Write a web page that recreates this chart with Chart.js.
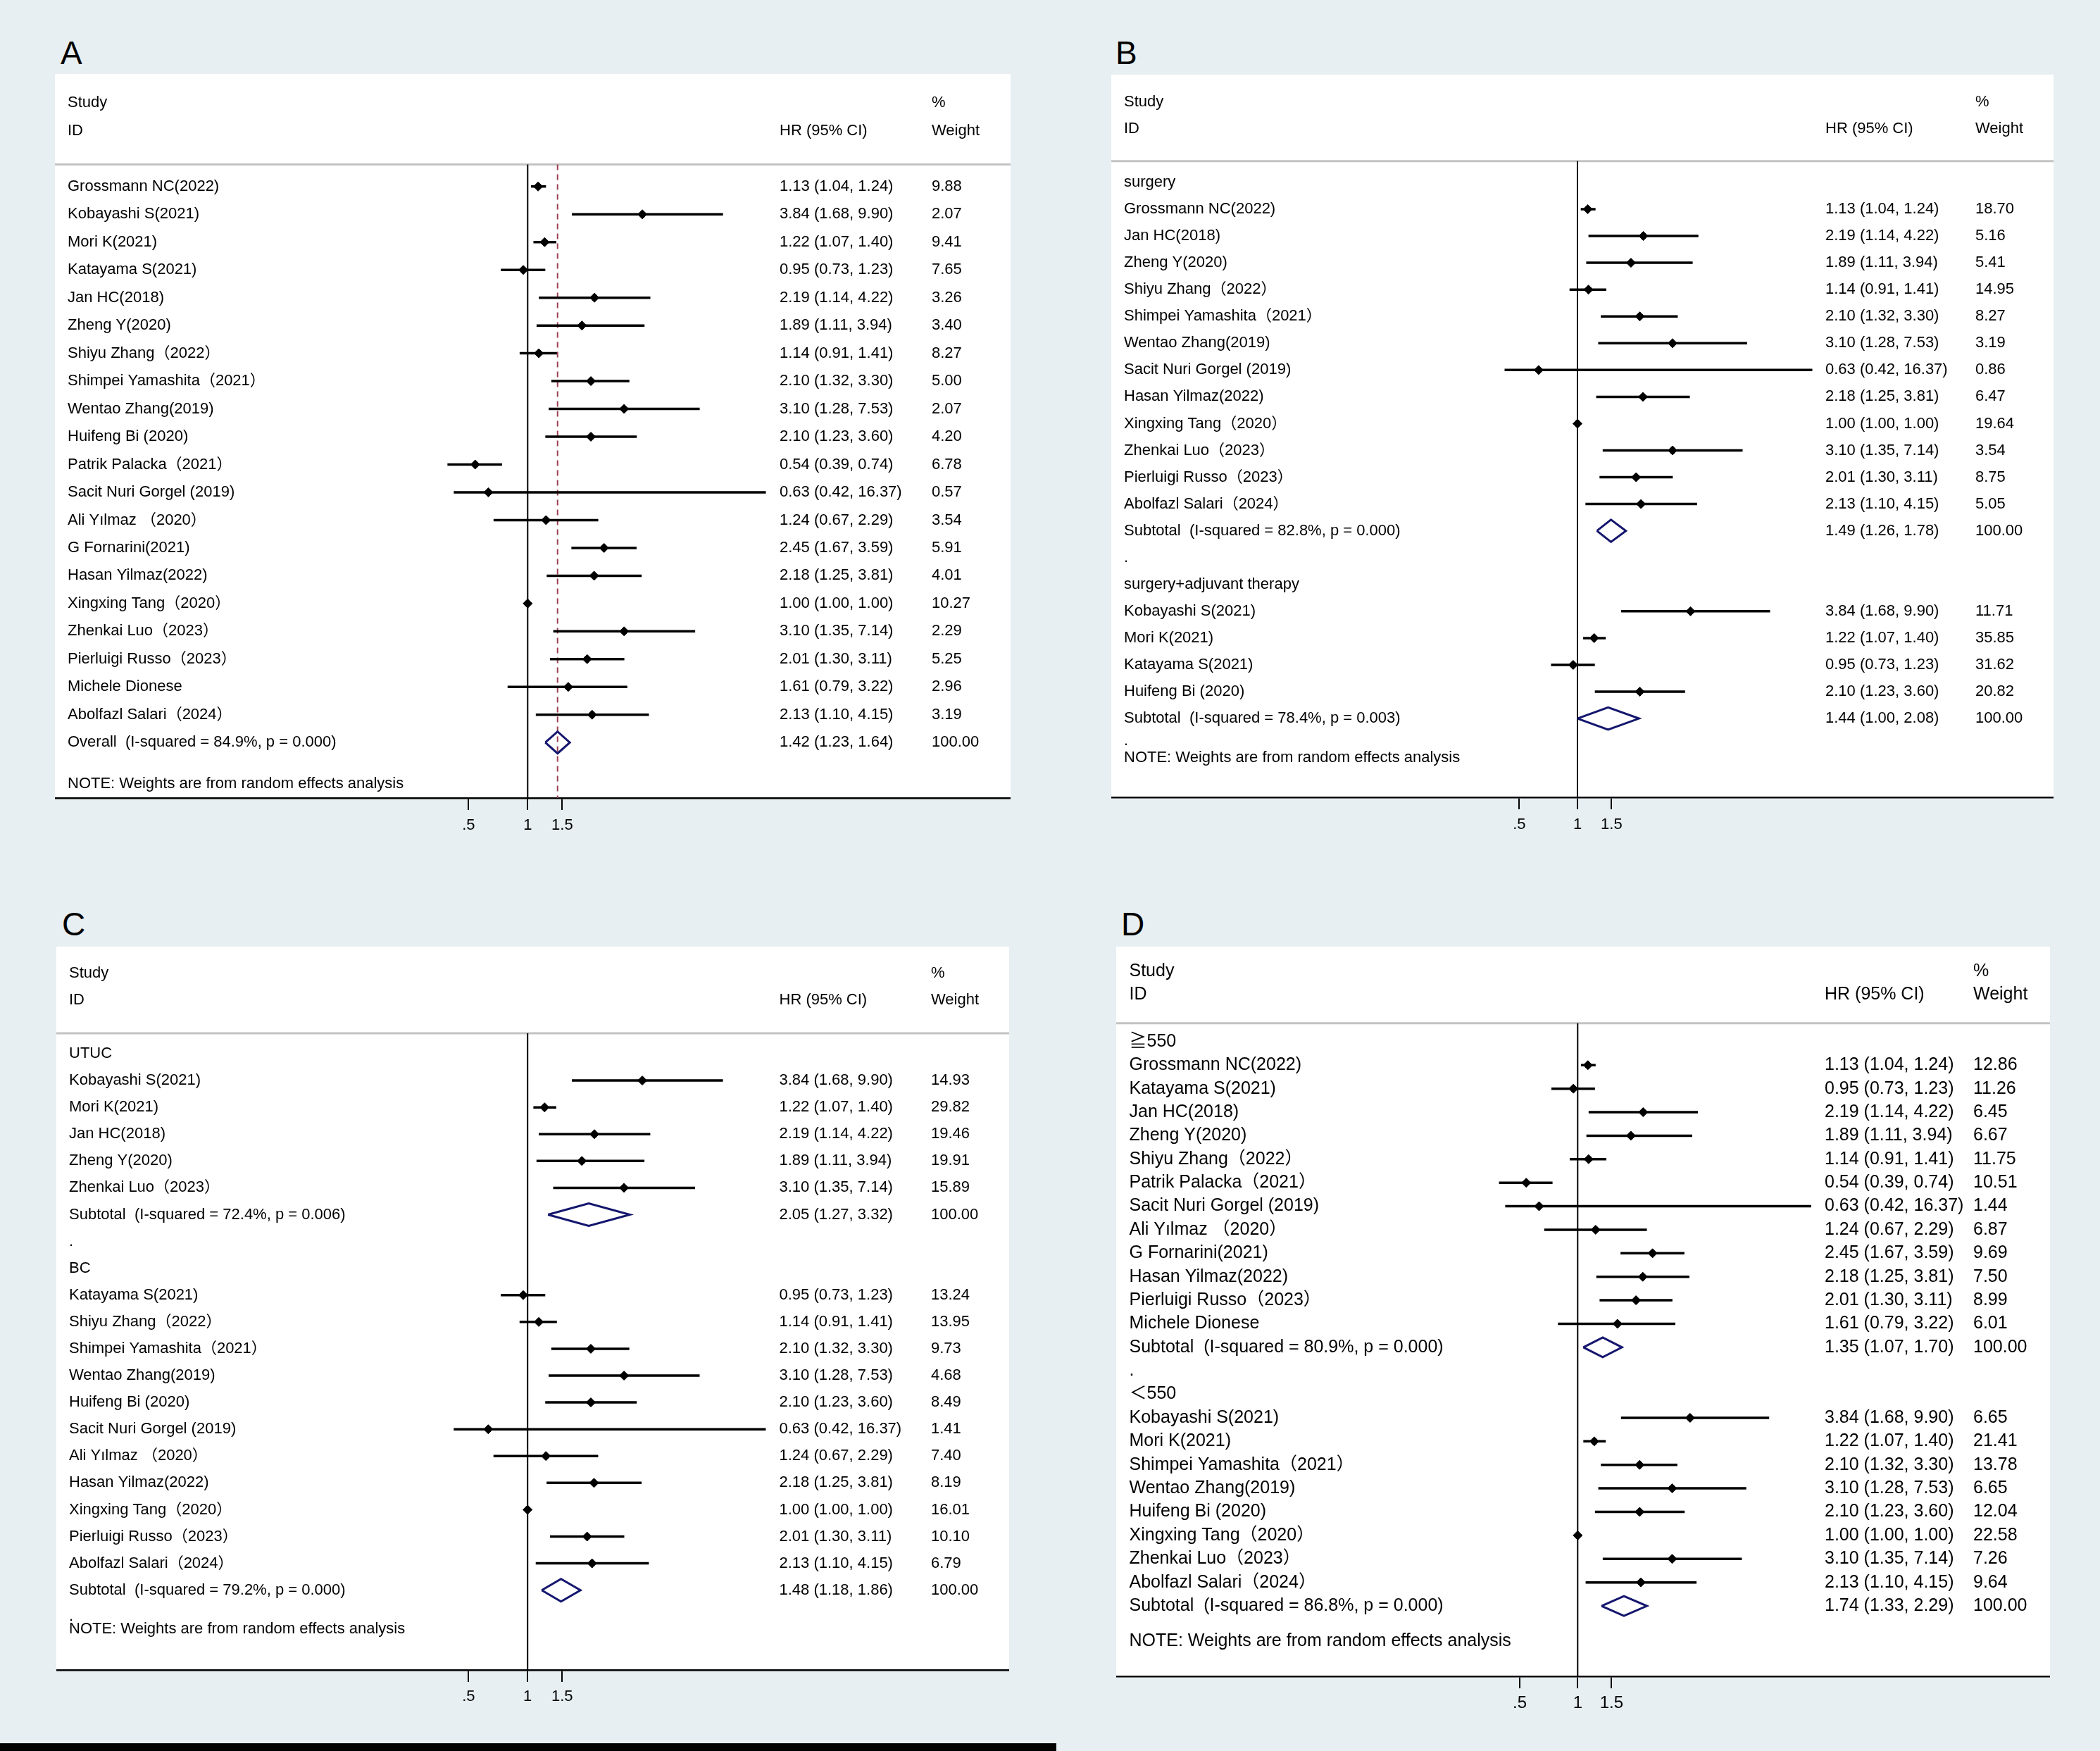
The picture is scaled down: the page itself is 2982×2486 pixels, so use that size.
<!DOCTYPE html>
<html>
<head>
<meta charset="utf-8">
<script src="https://cdn.jsdelivr.net/npm/chart.js@4.4.1/dist/chart.umd.min.js"></script>
<style>
  html, body { margin:0; padding:0; }
  body { width:2982px; height:2486px; background:#e8eff2; position:relative; overflow:hidden;
         font-family:"Liberation Sans", Arial, sans-serif; }
  .plabel { position:absolute; font-size:46px; line-height:1; color:#000; }
  canvas { position:absolute; }
  #bar { position:absolute; left:0; top:2475px; width:1500px; height:11px; background:#000; }
</style>
</head>
<body>
<div class="plabel" style="left:86px;top:52px;">A</div>
<div class="plabel" style="left:1584px;top:52px;">B</div>
<div class="plabel" style="left:88px;top:1289px;">C</div>
<div class="plabel" style="left:1592px;top:1289px;">D</div>
<div id="bar"></div>
<script>
// ---------------- shared text / ticks ----------------
const TICK_VALUES = [0.5, 1, 1.5];
const TICK_LABELS = ['.5', '1', '1.5'];
const HEAD_STUDY = 'Study';
const HEAD_ID = 'ID';
const HEAD_HR = 'HR (95% CI)';
const HEAD_PCT = '%';
const HEAD_WEIGHT = 'Weight';
const NOTE_TEXT = 'NOTE: Weights are from random effects analysis';

// ---------------- Panel A : all studies ----------------
const A_studies = ['Grossmann NC(2022)', 'Kobayashi S(2021)', 'Mori K(2021)', 'Katayama S(2021)', 'Jan HC(2018)',
  'Zheng Y(2020)', 'Shiyu Zhang（2022）', 'Shimpei Yamashita（2021）', 'Wentao Zhang(2019)', 'Huifeng Bi (2020)',
  'Patrik Palacka（2021）', 'Sacit Nuri Gorgel (2019)', 'Ali Yılmaz （2020）', 'G Fornarini(2021)', 'Hasan Yilmaz(2022)',
  'Xingxing Tang（2020）', 'Zhenkai Luo（2023）', 'Pierluigi Russo（2023）', 'Michele Dionese', 'Abolfazl Salari（2024）'];
const A_hr = [1.13, 3.84, 1.22, 0.95, 2.19, 1.89, 1.14, 2.10, 3.10, 2.10, 0.54, 0.63, 1.24, 2.45, 2.18, 1.00, 3.10, 2.01, 1.61, 2.13];
const A_lo = [1.04, 1.68, 1.07, 0.73, 1.14, 1.11, 0.91, 1.32, 1.28, 1.23, 0.39, 0.42, 0.67, 1.67, 1.25, 1.00, 1.35, 1.30, 0.79, 1.10];
const A_hi = [1.24, 9.90, 1.40, 1.23, 4.22, 3.94, 1.41, 3.30, 7.53, 3.60, 0.74, 16.37, 2.29, 3.59, 3.81, 1.00, 7.14, 3.11, 3.22, 4.15];
const A_weight = [9.88, 2.07, 9.41, 7.65, 3.26, 3.40, 8.27, 5.00, 2.07, 4.20, 6.78, 0.57, 3.54, 5.91, 4.01, 10.27, 2.29, 5.25, 2.96, 3.19];
const A_pooled_label = ['Overall  (I-squared = 84.9%, p = 0.000)'];
const A_pooled_hr = [1.42];
const A_pooled_lo = [1.23];
const A_pooled_hi = [1.64];

// ---------------- Panel B : by treatment ----------------
const B_groups = ['surgery', 'surgery+adjuvant therapy'];
const B1_studies = ['Grossmann NC(2022)', 'Jan HC(2018)', 'Zheng Y(2020)', 'Shiyu Zhang（2022）', 'Shimpei Yamashita（2021）',
  'Wentao Zhang(2019)', 'Sacit Nuri Gorgel (2019)', 'Hasan Yilmaz(2022)', 'Xingxing Tang（2020）', 'Zhenkai Luo（2023）',
  'Pierluigi Russo（2023）', 'Abolfazl Salari（2024）'];
const B1_hr = [1.13, 2.19, 1.89, 1.14, 2.10, 3.10, 0.63, 2.18, 1.00, 3.10, 2.01, 2.13];
const B1_lo = [1.04, 1.14, 1.11, 0.91, 1.32, 1.28, 0.42, 1.25, 1.00, 1.35, 1.30, 1.10];
const B1_hi = [1.24, 4.22, 3.94, 1.41, 3.30, 7.53, 16.37, 3.81, 1.00, 7.14, 3.11, 4.15];
const B1_weight = [18.70, 5.16, 5.41, 14.95, 8.27, 3.19, 0.86, 6.47, 19.64, 3.54, 8.75, 5.05];
const B2_studies = ['Kobayashi S(2021)', 'Mori K(2021)', 'Katayama S(2021)', 'Huifeng Bi (2020)'];
const B2_hr = [3.84, 1.22, 0.95, 2.10];
const B2_lo = [1.68, 1.07, 0.73, 1.23];
const B2_hi = [9.90, 1.40, 1.23, 3.60];
const B2_weight = [11.71, 35.85, 31.62, 20.82];
const B_pooled_label = ['Subtotal  (I-squared = 82.8%, p = 0.000)', 'Subtotal  (I-squared = 78.4%, p = 0.003)'];
const B_pooled_hr = [1.49, 1.44];
const B_pooled_lo = [1.26, 1.00];
const B_pooled_hi = [1.78, 2.08];

// ---------------- Panel C : by tumour type ----------------
const C_groups = ['UTUC', 'BC'];
const C1_studies = ['Kobayashi S(2021)', 'Mori K(2021)', 'Jan HC(2018)', 'Zheng Y(2020)', 'Zhenkai Luo（2023）'];
const C1_hr = [3.84, 1.22, 2.19, 1.89, 3.10];
const C1_lo = [1.68, 1.07, 1.14, 1.11, 1.35];
const C1_hi = [9.90, 1.40, 4.22, 3.94, 7.14];
const C1_weight = [14.93, 29.82, 19.46, 19.91, 15.89];
const C2_studies = ['Katayama S(2021)', 'Shiyu Zhang（2022）', 'Shimpei Yamashita（2021）', 'Wentao Zhang(2019)', 'Huifeng Bi (2020)',
  'Sacit Nuri Gorgel (2019)', 'Ali Yılmaz （2020）', 'Hasan Yilmaz(2022)', 'Xingxing Tang（2020）', 'Pierluigi Russo（2023）',
  'Abolfazl Salari（2024）'];
const C2_hr = [0.95, 1.14, 2.10, 3.10, 2.10, 0.63, 1.24, 2.18, 1.00, 2.01, 2.13];
const C2_lo = [0.73, 0.91, 1.32, 1.28, 1.23, 0.42, 0.67, 1.25, 1.00, 1.30, 1.10];
const C2_hi = [1.23, 1.41, 3.30, 7.53, 3.60, 16.37, 2.29, 3.81, 1.00, 3.11, 4.15];
const C2_weight = [13.24, 13.95, 9.73, 4.68, 8.49, 1.41, 7.40, 8.19, 16.01, 10.10, 6.79];
const C_pooled_label = ['Subtotal  (I-squared = 72.4%, p = 0.006)', 'Subtotal  (I-squared = 79.2%, p = 0.000)'];
const C_pooled_hr = [2.05, 1.48];
const C_pooled_lo = [1.27, 1.18];
const C_pooled_hi = [3.32, 1.86];

// ---------------- Panel D : by sample size ----------------
const D_groups = ['≧550', '＜550'];
const D1_studies = ['Grossmann NC(2022)', 'Katayama S(2021)', 'Jan HC(2018)', 'Zheng Y(2020)', 'Shiyu Zhang（2022）',
  'Patrik Palacka（2021）', 'Sacit Nuri Gorgel (2019)', 'Ali Yılmaz （2020）', 'G Fornarini(2021)', 'Hasan Yilmaz(2022)',
  'Pierluigi Russo（2023）', 'Michele Dionese'];
const D1_hr = [1.13, 0.95, 2.19, 1.89, 1.14, 0.54, 0.63, 1.24, 2.45, 2.18, 2.01, 1.61];
const D1_lo = [1.04, 0.73, 1.14, 1.11, 0.91, 0.39, 0.42, 0.67, 1.67, 1.25, 1.30, 0.79];
const D1_hi = [1.24, 1.23, 4.22, 3.94, 1.41, 0.74, 16.37, 2.29, 3.59, 3.81, 3.11, 3.22];
const D1_weight = [12.86, 11.26, 6.45, 6.67, 11.75, 10.51, 1.44, 6.87, 9.69, 7.50, 8.99, 6.01];
const D2_studies = ['Kobayashi S(2021)', 'Mori K(2021)', 'Shimpei Yamashita（2021）', 'Wentao Zhang(2019)', 'Huifeng Bi (2020)',
  'Xingxing Tang（2020）', 'Zhenkai Luo（2023）', 'Abolfazl Salari（2024）'];
const D2_hr = [3.84, 1.22, 2.10, 3.10, 2.10, 1.00, 3.10, 2.13];
const D2_lo = [1.68, 1.07, 1.32, 1.28, 1.23, 1.00, 1.35, 1.10];
const D2_hi = [9.90, 1.40, 3.30, 7.53, 3.60, 1.00, 7.14, 4.15];
const D2_weight = [6.65, 21.41, 13.78, 6.65, 12.04, 22.58, 7.26, 9.64];
const D_pooled_label = ['Subtotal  (I-squared = 80.9%, p = 0.000)', 'Subtotal  (I-squared = 86.8%, p = 0.000)'];
const D_pooled_hr = [1.35, 1.74];
const D_pooled_lo = [1.07, 1.33];
const D_pooled_hi = [1.70, 2.29];

// ---------------- layout / style (not data) ----------------
const FONT_FAMILY = '"Liberation Sans", Arial, "Noto Sans CJK SC", sans-serif';
const AXIS_H = 80;
const GEOM = {
  A: {L:78,   R:1435, T:105,  Yax:1133, X1:749.3,  k:121,   y0:264.8,  s:39.47,  hdrRow:-0.79, font:22, tickFont:22, tickPad:8.8, textX:18,   hrX:1029,   wX:1245, noteRow:21.48, tinyDot:null,  dHalf:15.5},
  B: {L:1578, R:2916, T:106,  Yax:1132, X1:2240,   k:119.3, y0:258.9,  s:38.06,  hdrRow:-0.79, font:22, tickFont:22, tickPad:8.8, textX:18,   hrX:1014,   wX:1227, noteRow:21.47, tinyDot:20.84, dHalf:15.8},
  C: {L:80,   R:1433, T:1344, Yax:2371, X1:749.2,  k:121,   y0:1496,   s:38.085, hdrRow:-0.76, font:22, tickFont:22, tickPad:7.8, textX:18,   hrX:1026.5, wX:1242, noteRow:21.46, tinyDot:20.98, dHalf:16},
  D: {L:1585, R:2911, T:1344, Yax:2380, X1:2240.3, k:118.6, y0:1478.9, s:33.38,  hdrRow:-0.78, font:25, tickFont:24, tickPad:7.1, textX:18.5, hrX:1006,   wX:1217, noteRow:25.5,  tinyDot:null,  dHalf:14}
};
const C_BLACK = '#000000';
const C_NAVY = '#14166e';
const C_DASH = '#9a4050';
const C_HEADLINE = '#c3c3c3';

function fmtCI(h, l, u) { return h.toFixed(2) + ' (' + l.toFixed(2) + ', ' + u.toFixed(2) + ')'; }

function buildRows(groups, pLabel, pHr, pLo, pHi) {
  const rows = [];
  let r = 0;
  groups.forEach((grp, gi) => {
    if (gi > 0) rows.push({row: r++, label: '.', kind: 'sep'});
    if (grp.title) rows.push({row: r++, label: grp.title, kind: 'title'});
    grp.studies.forEach((name, i) => {
      rows.push({row: r++, label: name, kind: 'study', hr: grp.hr[i], lo: grp.lo[i], hi: grp.hi[i], w: grp.w[i]});
    });
    rows.push({row: r++, label: pLabel[gi], kind: 'pooled', hr: pHr[gi], lo: pLo[gi], hi: pHi[gi], w: 100});
  });
  return rows;
}

function makePanel(key, groups, pLabel, pHr, pLo, pHi, overallLine) {
  const g = GEOM[key];
  const W = g.R - g.L;
  const plotH = g.Yax - g.T;
  const H = plotH + AXIS_H;
  const cv = document.createElement('canvas');
  cv.width = W; cv.height = H;
  cv.style.left = g.L + 'px'; cv.style.top = g.T + 'px';
  cv.style.width = W + 'px'; cv.style.height = H + 'px';
  document.body.appendChild(cv);

  const rows = buildRows(groups, pLabel, pHr, pLo, pHi);
  const xMin = Math.exp((0 - (g.X1 - g.L)) / g.k);
  const xMax = Math.exp((W - (g.X1 - g.L)) / g.k);
  const yMin = (g.T - g.y0) / g.s;
  const yMax = (g.Yax - g.y0) / g.s;
  const dh = g.dHalf / g.s;

  const studies = rows.filter(r => r.kind === 'study');
  const pooled = rows.filter(r => r.kind === 'pooled');

  const markerData = studies.map(r => ({x: r.hr, y: r.row}));
  const ciData = [];
  studies.forEach(r => { ciData.push({x: r.lo, y: r.row}, {x: r.hi, y: r.row}, {x: null, y: null}); });
  const diamondData = [];
  pooled.forEach(r => {
    diamondData.push({x: r.lo, y: r.row}, {x: r.hr, y: r.row - dh}, {x: r.hi, y: r.row},
                     {x: r.hr, y: r.row + dh}, {x: r.lo, y: r.row}, {x: null, y: null});
  });

  const datasets = [
    {data: markerData, pointStyle: 'rectRot', pointRadius: 6.5, pointBackgroundColor: C_BLACK,
     pointBorderColor: C_BLACK, pointBorderWidth: 1, showLine: false, order: 0},
    {data: ciData, showLine: true, borderColor: C_BLACK, borderWidth: 3.5, pointRadius: 0, spanGaps: false,
     borderCapStyle: 'butt', order: 1},
    {data: diamondData, showLine: true, borderColor: C_NAVY, borderWidth: 3, pointRadius: 0, spanGaps: false,
     borderJoinStyle: 'miter', fill: false, order: 1},
    {data: [{x: 1, y: g.hdrRow}, {x: 1, y: yMax}], showLine: true, borderColor: C_BLACK, borderWidth: 2,
     pointRadius: 0, order: 3},
    {data: [{x: xMin, y: g.hdrRow}, {x: xMax, y: g.hdrRow}], showLine: true, borderColor: C_HEADLINE,
     borderWidth: 3, pointRadius: 0, order: 4}
  ];
  if (overallLine !== null && overallLine !== undefined) {
    datasets.push({data: [{x: overallLine, y: g.hdrRow}, {x: overallLine, y: yMax}], showLine: true,
      borderColor: C_DASH, borderWidth: 2, borderDash: [8, 6], pointRadius: 0, order: 2});
  }

  const forestPlugin = {
    id: 'forest' + key,
    beforeDraw(chart) {
      const a = chart.chartArea, ctx = chart.ctx;
      ctx.save();
      ctx.fillStyle = '#ffffff';
      ctx.fillRect(a.left, a.top, a.right - a.left, a.bottom - a.top);
      ctx.restore();
    },
    afterDatasetsDraw(chart) {
      const a = chart.chartArea, ctx = chart.ctx, ys = chart.scales.y;
      ctx.save();
      ctx.fillStyle = C_BLACK;
      ctx.font = g.font + 'px ' + FONT_FAMILY;
      ctx.textBaseline = 'middle';
      ctx.textAlign = 'left';
      const tx = a.left + g.textX, hx = a.left + g.hrX, wx = a.left + g.wX;
      ctx.fillText(HEAD_STUDY, tx, ys.getPixelForValue(-3));
      ctx.fillText(HEAD_ID, tx, ys.getPixelForValue(-2));
      ctx.fillText(HEAD_HR, hx, ys.getPixelForValue(-2));
      ctx.fillText(HEAD_PCT, wx, ys.getPixelForValue(-3));
      ctx.fillText(HEAD_WEIGHT, wx, ys.getPixelForValue(-2));
      rows.forEach(r => {
        const y = ys.getPixelForValue(r.row);
        ctx.fillText(r.label, tx, y);
        if (r.kind === 'study' || r.kind === 'pooled') {
          ctx.fillText(fmtCI(r.hr, r.lo, r.hi), hx, y);
          ctx.fillText(r.w.toFixed(2), wx, y);
        }
      });
      if (g.tinyDot !== null) ctx.fillText('.', tx, ys.getPixelForValue(g.tinyDot));
      ctx.fillText(NOTE_TEXT, tx, ys.getPixelForValue(g.noteRow));
      ctx.restore();
    }
  };

  return new Chart(cv, {
    type: 'scatter',
    data: {datasets},
    options: {
      responsive: false, animation: false, devicePixelRatio: 1, events: [],
      layout: {padding: 0, autoPadding: false},
      plugins: {legend: {display: false}, tooltip: {enabled: false}},
      scales: {
        x: {
          type: 'logarithmic', position: 'bottom', bounds: 'data', min: xMin, max: xMax, offset: false,
          afterBuildTicks: sc => { sc.ticks = TICK_VALUES.map(v => ({value: v})); },
          afterFit: sc => { sc.height = AXIS_H; },
          grid: {display: true, drawOnChartArea: false, drawTicks: true, tickLength: 17, color: C_BLACK, lineWidth: 2},
          border: {display: true, color: C_BLACK, width: 2.5},
          ticks: {color: C_BLACK, padding: g.tickPad, autoSkip: false, maxRotation: 0, minRotation: 0,
                  font: {family: FONT_FAMILY, size: g.tickFont},
                  callback: v => { const i = TICK_VALUES.indexOf(v); return i >= 0 ? TICK_LABELS[i] : ''; }}
        },
        y: {type: 'linear', display: false, reverse: true, bounds: 'data', min: yMin, max: yMax}
      }
    },
    plugins: [forestPlugin]
  });
}

makePanel('A',
  [{title: null, studies: A_studies, hr: A_hr, lo: A_lo, hi: A_hi, w: A_weight}],
  A_pooled_label, A_pooled_hr, A_pooled_lo, A_pooled_hi, A_pooled_hr[0]);
makePanel('B',
  [{title: B_groups[0], studies: B1_studies, hr: B1_hr, lo: B1_lo, hi: B1_hi, w: B1_weight},
   {title: B_groups[1], studies: B2_studies, hr: B2_hr, lo: B2_lo, hi: B2_hi, w: B2_weight}],
  B_pooled_label, B_pooled_hr, B_pooled_lo, B_pooled_hi, null);
makePanel('C',
  [{title: C_groups[0], studies: C1_studies, hr: C1_hr, lo: C1_lo, hi: C1_hi, w: C1_weight},
   {title: C_groups[1], studies: C2_studies, hr: C2_hr, lo: C2_lo, hi: C2_hi, w: C2_weight}],
  C_pooled_label, C_pooled_hr, C_pooled_lo, C_pooled_hi, null);
makePanel('D',
  [{title: D_groups[0], studies: D1_studies, hr: D1_hr, lo: D1_lo, hi: D1_hi, w: D1_weight},
   {title: D_groups[1], studies: D2_studies, hr: D2_hr, lo: D2_lo, hi: D2_hi, w: D2_weight}],
  D_pooled_label, D_pooled_hr, D_pooled_lo, D_pooled_hi, null);
</script>
</body>
</html>
